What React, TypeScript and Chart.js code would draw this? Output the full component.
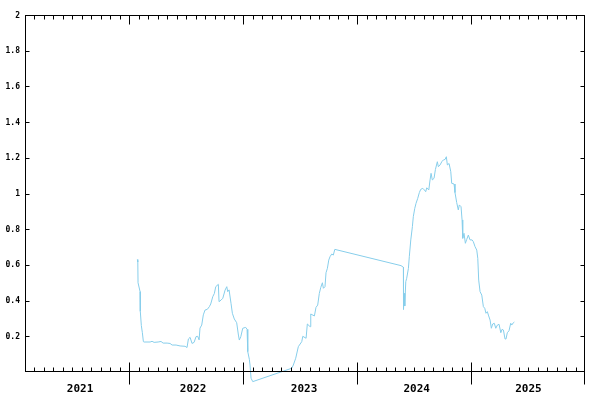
import { useEffect, useRef } from "react";
import { Chart, registerables } from "chart.js";

Chart.register(...registerables);

// x axis: time in decimal years (axis runs from 1 Feb 2021 to 1 Jan 2026)
const xStart = 2021 + 31 / 365;
const xEnd = 2026;
const yearLabels = ["2021", "2022", "2023", "2024", "2025"];
const yearLabelAt = [2021.568, 2022.56, 2023.534, 2024.523, 2025.504];
const yearTicks = [2022, 2023, 2024, 2025, 2026];

const yTickValues = [0.2, 0.4, 0.6, 0.8, 1, 1.2, 1.4, 1.6, 1.8, 2];
const yTickLabels = ["0.2", "0.4", "0.6", "0.8", "1", "1.2", "1.4", "1.6", "1.8", "2"];

const seriesTime = [
  2022.071, 2022.075, 2022.077, 2022.095, 2022.097, 2022.106, 2022.115, 2022.124, 2022.13,
  2022.183, 2022.2, 2022.218, 2022.253, 2022.279, 2022.297, 2022.332, 2022.358, 2022.376,
  2022.411, 2022.446, 2022.49, 2022.507, 2022.519, 2022.534, 2022.551, 2022.569, 2022.586,
  2022.601, 2022.613, 2022.621, 2022.636, 2022.65, 2022.665, 2022.685, 2022.703, 2022.715,
  2022.733, 2022.747, 2022.759, 2022.782, 2022.788, 2022.806, 2022.821, 2022.841, 2022.856,
  2022.864, 2022.876, 2022.893, 2022.905, 2022.922, 2022.943, 2022.958, 2022.966, 2022.979,
  2022.996, 2023.022, 2023.034, 2023.04, 2023.054, 2023.06, 2023.069, 2023.084,
  2023.426, 2023.44, 2023.461, 2023.484, 2023.514, 2023.523, 2023.552, 2023.563, 2023.587,
  2023.593, 2023.625, 2023.639, 2023.654, 2023.668, 2023.681, 2023.695, 2023.704, 2023.718,
  2023.727, 2023.739, 2023.751, 2023.762, 2023.777, 2023.791, 2023.804,
  2024.385, 2024.406, 2024.407, 2024.414, 2024.418, 2024.427, 2024.435, 2024.45, 2024.458,
  2024.471, 2024.485, 2024.493, 2024.506, 2024.517, 2024.532, 2024.546, 2024.558, 2024.576,
  2024.59, 2024.602, 2024.611, 2024.629, 2024.64, 2024.649, 2024.66, 2024.675, 2024.687,
  2024.704, 2024.713, 2024.728, 2024.743, 2024.757, 2024.772, 2024.783, 2024.792, 2024.807,
  2024.822, 2024.83, 2024.851, 2024.859, 2024.874, 2024.888, 2024.897, 2024.912, 2024.921,
  2024.927, 2024.938, 2024.95, 2024.962, 2024.976, 2024.991, 2025.009, 2025.02, 2025.035,
  2025.05, 2025.059, 2025.067, 2025.079, 2025.094, 2025.108, 2025.12, 2025.131, 2025.143,
  2025.152, 2025.167, 2025.178, 2025.19, 2025.204, 2025.217, 2025.231, 2025.246, 2025.261,
  2025.272, 2025.284, 2025.298, 2025.307, 2025.318, 2025.333, 2025.348, 2025.357, 2025.371,
  2025.38,
];

const seriesValue = [
  0.63, 0.616, 0.5, 0.45, 0.34, 0.26, 0.22, 0.17, 0.168,
  0.168, 0.172, 0.166, 0.168, 0.171, 0.162, 0.162, 0.16, 0.151,
  0.151, 0.146, 0.144, 0.137, 0.185, 0.194, 0.16, 0.166, 0.198,
  0.2, 0.18, 0.246, 0.263, 0.32, 0.347, 0.351, 0.366, 0.381,
  0.422, 0.44, 0.478, 0.491, 0.394, 0.403, 0.413, 0.459, 0.478,
  0.45, 0.46, 0.385, 0.329, 0.297, 0.276, 0.207, 0.179, 0.198,
  0.245, 0.25, 0.239, 0.114, 0.071, 0.039, -0.035, -0.054,
  0.021, 0.039, 0.077, 0.142, 0.17, 0.2, 0.189, 0.269, 0.254,
  0.325, 0.314, 0.362, 0.375, 0.44, 0.474, 0.5, 0.469, 0.478,
  0.556, 0.581, 0.627, 0.646, 0.661, 0.655, 0.687,
  0.596, 0.587, 0.351, 0.44, 0.37, 0.506, 0.525, 0.58, 0.646,
  0.74, 0.814, 0.87, 0.917, 0.945, 0.973, 1.005, 1.023, 1.029,
  1.02, 1.01, 1.032, 1.02, 1.076, 1.113, 1.076, 1.085, 1.134,
  1.178, 1.15, 1.16, 1.178, 1.188, 1.191, 1.206, 1.16, 1.168,
  1.122, 1.057, 1.053, 1.005, 0.949, 0.908, 0.936, 0.926, 0.852,
  0.749, 0.777, 0.721, 0.743, 0.767, 0.74, 0.74, 0.73, 0.702,
  0.683, 0.637, 0.515, 0.45, 0.431, 0.366, 0.357, 0.329, 0.338,
  0.319, 0.291, 0.245, 0.269, 0.273, 0.245, 0.263, 0.267, 0.22,
  0.239, 0.235, 0.185, 0.185, 0.22, 0.231, 0.273, 0.263, 0.276,
  0.28,
];

const framePlugin = {
  id: "gnuframe",
  afterDraw(chart: any) {
    const { ctx, chartArea: a, scales } = chart;
    const xs = scales.x;
    const ys = scales.y;
    const snap = (p: number) => Math.round(p) + 0.5;
    const seg = (x1: number, y1: number, x2: number, y2: number) => {
      ctx.beginPath();
      ctx.moveTo(x1, y1);
      ctx.lineTo(x2, y2);
      ctx.stroke();
    };
    ctx.save();
    ctx.strokeStyle = "#000";
    ctx.lineWidth = 1;
    const L = a.left + 0.5, R = a.right - 0.5, T = a.top + 0.5, B = a.bottom - 0.5;
    ctx.strokeRect(L, T, R - L, B - T);

    // monthly minor ticks, yearly major ticks
    for (let yr = 2021; yr <= 2025; yr++) {
      for (let m = 1; m < 12; m++) {
        const v = yr + m / 12;
        if (v <= xStart + 0.001 || v >= xEnd) continue;
        const px = snap(xs.getPixelForValue(v));
        seg(px, B, px, B - 4);
        seg(px, T, px, T + 4);
      }
    }
    yearTicks.forEach((v) => {
      const px = v >= xEnd ? R : snap(xs.getPixelForValue(v));
      seg(px, B - 9, px, B + 13);
      seg(px, T, px, T + 9);
    });

    // y ticks
    yTickValues.forEach((v) => {
      const py = snap(ys.getPixelForValue(v));
      seg(L, py, L + 4, py);
      seg(R, py, R - 4, py);
    });

    ctx.fillStyle = "#000";
    ctx.font = 'bold 8px "DejaVu Sans Mono"';
    ctx.textAlign = "right";
    ctx.textBaseline = "middle";
    yTickValues.forEach((v, i) => {
      ctx.fillText(yTickLabels[i], 20, ys.getPixelForValue(v) + 0.5);
    });

    ctx.font = 'bold 11px "DejaVu Sans Mono"';
    ctx.textAlign = "center";
    yearLabels.forEach((lab, i) => {
      ctx.fillText(lab, xs.getPixelForValue(yearLabelAt[i]), a.bottom + 17);
    });
    ctx.restore();
  },
};

export default function App() {
  const ref = useRef<HTMLCanvasElement | null>(null);
  useEffect(() => {
    if (!ref.current) return;
    const points = seriesTime.map((t, i) => ({ x: t, y: seriesValue[i] }));
    const chart = new Chart(ref.current, {
      type: "line",
      data: {
        datasets: [
          {
            data: points,
            borderColor: "#87CEEB",
            borderWidth: 1,
            pointRadius: 0,
            tension: 0,
            fill: false,
            clip: false as any,
          },
        ],
      },
      options: {
        animation: false,
        responsive: false,
        events: [],
        layout: { padding: { left: 25, top: 15, right: 15, bottom: 28 } },
        plugins: { legend: { display: false }, tooltip: { enabled: false } },
        scales: {
          x: { type: "linear", min: xStart, max: xEnd, display: false },
          y: { type: "linear", min: 0, max: 2, display: false },
        },
      },
      plugins: [framePlugin],
    });
    return () => chart.destroy();
  }, []);
  return (
    <div style={{ position: "absolute", left: 0, top: 0, width: 600, height: 400, background: "#fff" }}>
      <canvas ref={ref} width={600} height={400} style={{ display: "block" }} />
    </div>
  );
}
